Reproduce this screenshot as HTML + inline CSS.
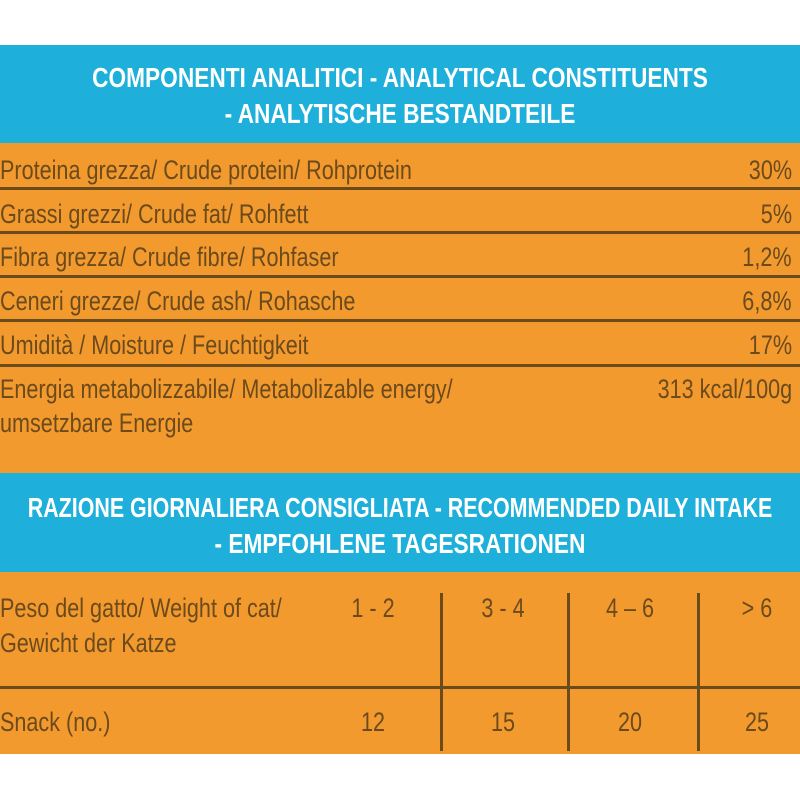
<!DOCTYPE html>
<html><head><meta charset="utf-8"><style>
body{margin:0;width:800px;height:800px;background:#fff;position:relative;overflow:hidden;font-family:"Liberation Sans",sans-serif;}
.b{position:absolute;left:0;width:800px;background:#1eb0da;}
.o{position:absolute;left:0;width:800px;background:#f39a2f;}
.h{position:absolute;left:-200px;width:1200px;text-align:center;color:#fff;font-weight:bold;font-size:28px;line-height:34px;white-space:nowrap;transform:scaleX(0.81);transform-origin:center;}
.t{position:absolute;color:#6b4a1c;font-size:27px;line-height:34px;white-space:nowrap;transform:scaleX(0.8);transform-origin:left;}
.r{position:absolute;right:8px;color:#6b4a1c;font-size:27px;line-height:34px;white-space:nowrap;text-align:right;transform:scaleX(0.8);transform-origin:right;}
.hl{position:absolute;left:0;width:800px;height:3px;background:#6b4a1c;}
.vl{position:absolute;width:3px;background:#6b4a1c;top:593px;height:158px;}
.c{position:absolute;width:120px;text-align:center;color:#6b4a1c;font-size:27px;line-height:34px;transform:scaleX(0.8);white-space:nowrap;}
</style></head><body>
<div class="b" style="top:45px;height:98px"></div>
<div class="h" style="top:61px">COMPONENTI ANALITICI - ANALYTICAL CONSTITUENTS</div>
<div class="h" style="top:97px">- ANALYTISCHE BESTANDTEILE</div>
<div class="o" style="top:143px;height:330px"></div>
<div class="t" style="left:0;top:153px">Proteina grezza/ Crude protein/ Rohprotein</div><div class="r" style="top:153px">30%</div>
<div class="hl" style="top:187px"></div>
<div class="t" style="left:0;top:197px">Grassi grezzi/ Crude fat/ Rohfett</div><div class="r" style="top:197px">5%</div>
<div class="hl" style="top:231px"></div>
<div class="t" style="left:0;top:240px">Fibra grezza/ Crude fibre/ Rohfaser</div><div class="r" style="top:240px">1,2%</div>
<div class="hl" style="top:275px"></div>
<div class="t" style="left:0;top:284px">Ceneri grezze/ Crude ash/ Rohasche</div><div class="r" style="top:284px">6,8%</div>
<div class="hl" style="top:319px"></div>
<div class="t" style="left:0;top:328px">Umidità / Moisture / Feuchtigkeit</div><div class="r" style="top:328px">17%</div>
<div class="hl" style="top:364px"></div>
<div class="t" style="left:0;top:372px">Energia metabolizzabile/ Metabolizable energy/</div><div class="r" style="top:372px">313 kcal/100g</div>
<div class="t" style="left:0;top:406px">umsetzbare Energie</div>
<div class="b" style="top:473px;height:99px"></div>
<div class="h" style="top:491px;transform:scaleX(0.765)">RAZIONE GIORNALIERA CONSIGLIATA - RECOMMENDED DAILY INTAKE</div>
<div class="h" style="top:527px">- EMPFOHLENE TAGESRATIONEN</div>
<div class="o" style="top:572px;height:182px"></div>
<div class="t" style="left:0;top:591px">Peso del gatto/ Weight of cat/</div>
<div class="t" style="left:0;top:626px">Gewicht der Katze</div>
<div class="c" style="left:313px;top:591px">1 - 2</div>
<div class="c" style="left:443px;top:591px">3 - 4</div>
<div class="c" style="left:570px;top:591px">4 – 6</div>
<div class="c" style="left:697px;top:591px">&gt; 6</div>
<div class="hl" style="top:686px"></div>
<div class="t" style="left:0;top:705px">Snack (no.)</div>
<div class="c" style="left:313px;top:705px">12</div>
<div class="c" style="left:443px;top:705px">15</div>
<div class="c" style="left:570px;top:705px">20</div>
<div class="c" style="left:697px;top:705px">25</div>
<div class="vl" style="left:440px"></div>
<div class="vl" style="left:567px"></div>
<div class="vl" style="left:697px"></div>
</body></html>
